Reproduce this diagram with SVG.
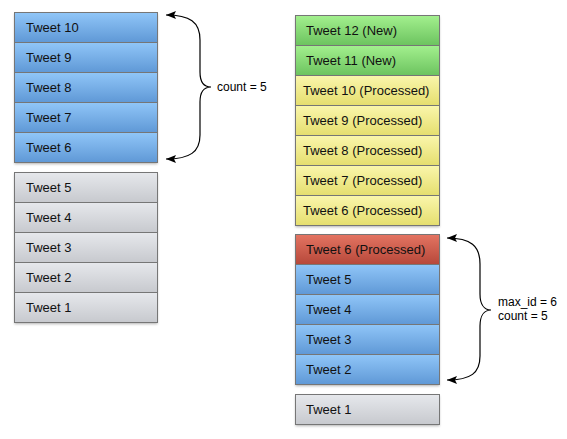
<svg xmlns="http://www.w3.org/2000/svg" width="567" height="439" viewBox="0 0 567 439">
<defs>
<linearGradient id="gBlue" x1="0" y1="0" x2="0" y2="1"><stop offset="0" stop-color="#90c6f8"/><stop offset="1" stop-color="#5f98d6"/></linearGradient>
<linearGradient id="gGray" x1="0" y1="0" x2="0" y2="1"><stop offset="0" stop-color="#e6e8ec"/><stop offset="1" stop-color="#c7c9ce"/></linearGradient>
<linearGradient id="gGreen" x1="0" y1="0" x2="0" y2="1"><stop offset="0" stop-color="#a3f08e"/><stop offset="1" stop-color="#6cc35f"/></linearGradient>
<linearGradient id="gYellow" x1="0" y1="0" x2="0" y2="1"><stop offset="0" stop-color="#faf6ac"/><stop offset="1" stop-color="#e5de6e"/></linearGradient>
<linearGradient id="gRed" x1="0" y1="0" x2="0" y2="1"><stop offset="0" stop-color="#e47462"/><stop offset="1" stop-color="#b6483a"/></linearGradient>
<filter id="sh" x="-5%" y="-5%" width="110%" height="115%"><feDropShadow dx="0" dy="1.5" stdDeviation="1" flood-color="#000" flood-opacity="0.3"/></filter>
<marker id="arr" markerWidth="11" markerHeight="8" refX="10" refY="4" orient="auto-start-reverse" markerUnits="userSpaceOnUse"><path d="M10,4 L0,0 L2,4 L0,8 Z" fill="#000"/></marker>
</defs>
<style>
.r{stroke:#767676;stroke-width:1}
.t{font-family:"Liberation Sans",Arial,sans-serif;font-size:13px;fill:#111}
.b{fill:none;stroke:#000;stroke-width:1.2}
.l{font-family:"Liberation Sans",Arial,sans-serif;font-size:12px;fill:#000}
</style>
<g id="shadows" filter="url(#sh)">
<rect x="14.5" y="12.5" width="143" height="150" fill="#999"/>
<rect x="14.5" y="172.5" width="143" height="150" fill="#999"/>
<rect x="295.5" y="15.5" width="144" height="210" fill="#999"/>
<rect x="295.5" y="234.5" width="144" height="150" fill="#999"/>
<rect x="295.5" y="394.5" width="144" height="30" fill="#999"/>
</g>
<g id="L10"><rect class="r" x="14.5" y="12.5" width="143" height="30" fill="url(#gBlue)"/><text class="t" x="26" y="32">Tweet 10</text></g>
<g id="L9"><rect class="r" x="14.5" y="42.5" width="143" height="30" fill="url(#gBlue)"/><text class="t" x="26" y="62">Tweet 9</text></g>
<g id="L8"><rect class="r" x="14.5" y="72.5" width="143" height="30" fill="url(#gBlue)"/><text class="t" x="26" y="92">Tweet 8</text></g>
<g id="L7"><rect class="r" x="14.5" y="102.5" width="143" height="30" fill="url(#gBlue)"/><text class="t" x="26" y="122">Tweet 7</text></g>
<g id="L6"><rect class="r" x="14.5" y="132.5" width="143" height="30" fill="url(#gBlue)"/><text class="t" x="26" y="152">Tweet 6</text></g>
<g id="L5"><rect class="r" x="14.5" y="172.5" width="143" height="30" fill="url(#gGray)"/><text class="t" x="26" y="192">Tweet 5</text></g>
<g id="L4"><rect class="r" x="14.5" y="202.5" width="143" height="30" fill="url(#gGray)"/><text class="t" x="26" y="222">Tweet 4</text></g>
<g id="L3"><rect class="r" x="14.5" y="232.5" width="143" height="30" fill="url(#gGray)"/><text class="t" x="26" y="252">Tweet 3</text></g>
<g id="L2"><rect class="r" x="14.5" y="262.5" width="143" height="30" fill="url(#gGray)"/><text class="t" x="26" y="282">Tweet 2</text></g>
<g id="L1"><rect class="r" x="14.5" y="292.5" width="143" height="30" fill="url(#gGray)"/><text class="t" x="26" y="312">Tweet 1</text></g>

<g id="R12"><rect class="r" x="295.5" y="15.5" width="144" height="30" fill="url(#gGreen)"/><text class="t" x="306" y="35">Tweet 12 (New)</text></g>
<g id="R11"><rect class="r" x="295.5" y="45.5" width="144" height="30" fill="url(#gGreen)"/><text class="t" x="306" y="65">Tweet 11 (New)</text></g>
<g id="R10"><rect class="r" x="295.5" y="75.5" width="144" height="30" fill="url(#gYellow)"/><text class="t" x="303" y="95">Tweet 10 (Processed)</text></g>
<g id="R9"><rect class="r" x="295.5" y="105.5" width="144" height="30" fill="url(#gYellow)"/><text class="t" x="303" y="125">Tweet 9 (Processed)</text></g>
<g id="R8"><rect class="r" x="295.5" y="135.5" width="144" height="30" fill="url(#gYellow)"/><text class="t" x="303" y="155">Tweet 8 (Processed)</text></g>
<g id="R7"><rect class="r" x="295.5" y="165.5" width="144" height="30" fill="url(#gYellow)"/><text class="t" x="303" y="185">Tweet 7 (Processed)</text></g>
<g id="R6"><rect class="r" x="295.5" y="195.5" width="144" height="30" fill="url(#gYellow)"/><text class="t" x="303" y="215">Tweet 6 (Processed)</text></g>
<g id="R6b"><rect class="r" x="295.5" y="234.5" width="144" height="30" fill="url(#gRed)"/><text class="t" x="306" y="254">Tweet 6 (Processed)</text></g>
<g id="R5"><rect class="r" x="295.5" y="264.5" width="144" height="30" fill="url(#gBlue)"/><text class="t" x="306" y="284">Tweet 5</text></g>
<g id="R4"><rect class="r" x="295.5" y="294.5" width="144" height="30" fill="url(#gBlue)"/><text class="t" x="306" y="314">Tweet 4</text></g>
<g id="R3"><rect class="r" x="295.5" y="324.5" width="144" height="30" fill="url(#gBlue)"/><text class="t" x="306" y="344">Tweet 3</text></g>
<g id="R2"><rect class="r" x="295.5" y="354.5" width="144" height="30" fill="url(#gBlue)"/><text class="t" x="306" y="374">Tweet 2</text></g>
<g id="R1"><rect class="r" x="295.5" y="394.5" width="144" height="30" fill="url(#gGray)"/><text class="t" x="306" y="414">Tweet 1</text></g>

<g id="connectors">
<path class="b" marker-start="url(#arr)" marker-end="url(#arr)" d="M166,15 C190,15 200,22 200,40 L200,72 C200,82 204,87 211,87 C204,87 200,92 200,102 L200,135 C200,152 190,159 166,159"/>
<path class="b" marker-start="url(#arr)" marker-end="url(#arr)" d="M447,238 C471,238 480,246 480,264 L480,294 C480,304 484,310 491,310 C484,310 480,316 480,326 L480,356 C480,373 471,380 447,380"/>
</g>
<g id="labels">
<text class="l" x="217" y="91">count = 5</text>
<text class="l" x="498" y="306">max_id = 6</text>
<text class="l" x="498" y="320">count = 5</text>
</g>
</svg>
